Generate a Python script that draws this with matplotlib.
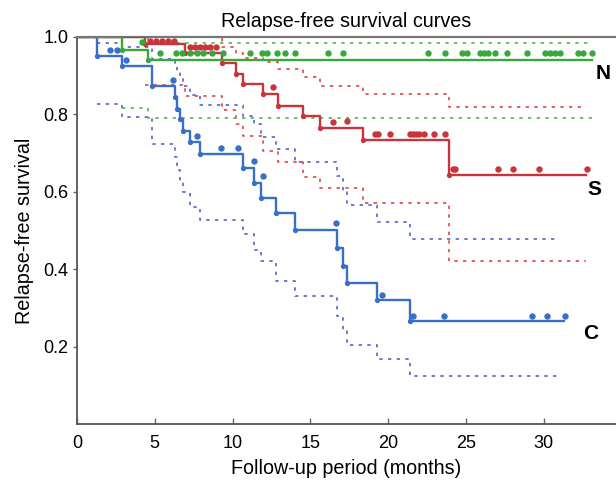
"""Relapse-free survival curves (Kaplan-Meier style) for groups N, S and C."""

import matplotlib
matplotlib.use("Agg")
import matplotlib.pyplot as plt

plt.rcParams["font.family"] = ["Liberation Sans", "DejaVu Sans"]

# ── data ───────────────────────────────────────────────────────────────

# group C (blue)
c_times = [1.3, 2.9, 4.8, 6.3, 6.45, 6.6, 6.8, 7.25, 7.9, 10.65, 11.4, 11.85,
           12.8, 14.05, 16.7, 17.1, 17.35, 19.3, 21.4]
c_surv = [0.952, 0.925, 0.872, 0.845, 0.813, 0.788, 0.757, 0.728, 0.697, 0.662,
          0.623, 0.585, 0.544, 0.502, 0.455, 0.409, 0.364, 0.32, 0.265]
c_hi = [0.985, 0.975, 0.943, 0.925, 0.91, 0.896, 0.874, 0.85, 0.824, 0.795,
        0.775, 0.742, 0.71, 0.677, 0.64, 0.6, 0.565, 0.521, 0.477]
c_lo = [0.826, 0.793, 0.723, 0.69, 0.655, 0.625, 0.6, 0.56, 0.528, 0.49,
        0.45, 0.42, 0.369, 0.33, 0.28, 0.24, 0.203, 0.168, 0.124]
c_end, c_ci_end = 31.3, 31.0
c_cens_x = [2.12, 2.57, 3.13, 6.17, 7.7, 9.26, 10.35, 11.38, 11.94, 16.65,
            19.6, 21.6, 23.6, 29.26, 30.2, 31.38]
c_cens_y = [0.967, 0.967, 0.94, 0.889, 0.743, 0.712, 0.712, 0.679, 0.64, 0.518,
            0.334, 0.28, 0.28, 0.28, 0.28, 0.28]

# group S (red)
s_times = [4.37, 6.94, 9.3, 10.25, 10.68, 11.96, 12.93, 14.54, 15.6, 18.37, 23.89]
s_surv = [0.982, 0.959, 0.932, 0.904, 0.878, 0.852, 0.822, 0.796, 0.766, 0.734, 0.643]
s_hi = [1.0, 1.0, 0.974, 0.958, 0.945, 0.935, 0.917, 0.896, 0.874, 0.852, 0.818]
s_lo = [0.875, 0.848, 0.81, 0.775, 0.745, 0.705, 0.676, 0.637, 0.609, 0.572, 0.42]
s_end, s_hi_end, s_lo_end = 32.73, 32.5, 32.73
s_cens_x = [4.7, 5.08, 5.47, 5.85, 6.24, 7.27, 7.59, 7.91, 8.23, 8.55, 8.94,
            12.6, 16.46, 17.36, 19.16, 19.36, 20.13, 21.4, 21.6, 21.8, 22.0,
            22.3, 22.96, 23.67, 24.18, 24.3, 27.07, 28.04, 29.7, 32.8]
s_cens_y = [0.99] * 5 + [0.973] * 6 + [0.87, 0.78, 0.783] + [0.749] * 10 + [0.658] * 6

# group N (green)
n_times = [2.9, 4.56]
n_surv = [0.966, 0.941]
n_hi = [1.0, 0.984]
n_lo = [0.816, 0.79]
n_end = 33.14
n_cens_x = [4.16, 5.34, 6.37, 6.75, 7.27, 7.72, 8.1, 8.68, 9.39, 11.13, 11.9,
            12.22, 12.86, 13.38, 14.02, 16.14, 17.11, 22.57, 23.67, 24.76, 25.08,
            25.92, 26.17, 26.43, 26.88, 27.65, 28.94, 30.1, 30.42, 30.74, 31.06,
            32.22, 32.54, 33.12]
n_cens_y = [0.987] + [0.958] * 33

x_ticks = [0, 5, 10, 15, 20, 25, 30]
y_ticks = [0.2, 0.4, 0.6, 0.8, 1.0]


def step_xy(times, vals, end, start=None):
    xs, ys = list(times), list(vals)
    if start is not None:
        xs, ys = [start[0]] + xs, [start[1]] + ys
    return xs + [end], ys + [ys[-1]]


fig = plt.figure(figsize=(6.16, 4.86), dpi=100)
ax = fig.add_axes([0.125, 0.1276, 0.875, 0.7964])

groups = [
    ("C", c_times, c_surv, c_hi, c_lo, c_end, c_ci_end, c_ci_end,
     c_cens_x, c_cens_y, "#3a6fc9", "#5563c4"),
    ("S", s_times, s_surv, s_hi, s_lo, s_end, s_hi_end, s_lo_end,
     s_cens_x, s_cens_y, "#c8343c", "#e0464a"),
    ("N", n_times, n_surv, n_hi, n_lo, n_end, n_end, n_end,
     n_cens_x, n_cens_y, "#38a83c", "#4cba4c"),
]

dash = (0, (2.0, 3.2))
for name, t, s, hi, lo, end, hi_end, lo_end, cx, cy, col, ci_col in groups:
    for band, bend in ((hi, hi_end), (lo, lo_end)):
        bx, by = step_xy(t, band, bend)
        ax.step(bx, by, where="post", color=ci_col, lw=1.2, ls=dash, zorder=2)
    sx, sy = step_xy(t, s, end, start=(0, 1.0))
    ax.step(sx, sy, where="post", color=col, lw=1.7, zorder=4)
    ax.plot(t, s, ls="none", marker="o", ms=2.8, color=col, zorder=5)
    ax.plot(cx, cy, ls="none", marker="o", ms=3.6, color=col, zorder=5)

ax.text(33.8, 0.905, "N", fontsize=15, fontweight="bold", ha="center", va="center")
ax.text(33.3, 0.605, "S", fontsize=15, fontweight="bold", ha="center", va="center")
ax.text(33.05, 0.235, "C", fontsize=15, fontweight="bold", ha="center", va="center")

ax.set_xlim(0, 34.66)
ax.set_ylim(0, 1.0)
ax.set_xticks(x_ticks)
ax.set_xticklabels([str(v) for v in x_ticks])
ax.set_yticks(y_ticks)
ax.set_yticklabels([f"{v:.1f}" for v in y_ticks])
ax.tick_params(axis="x", direction="in", length=4, width=1, color="#666666",
               labelsize=13, pad=8)
ax.tick_params(axis="y", direction="out", length=3, width=1, color="#666666",
               labelsize=13, pad=3)

for side in ("left", "bottom"):
    ax.spines[side].set_color("#555555")
    ax.spines[side].set_linewidth(1.3)
ax.spines["top"].set_color("#777777")
ax.spines["top"].set_linewidth(1.6)
ax.spines["right"].set_visible(False)

ax.set_title("Relapse-free survival curves", fontsize=14.2, pad=7)
ax.set_xlabel("Follow-up period (months)", fontsize=14.2, labelpad=5)
ax.set_ylabel("Relapse-free survival", fontsize=14.2, labelpad=7)

fig.savefig("out.png", dpi=100)
plt.close(fig)
